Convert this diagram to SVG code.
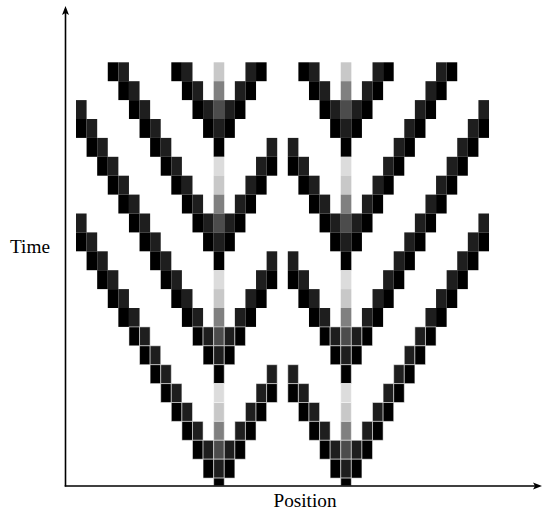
<svg xmlns="http://www.w3.org/2000/svg" xmlns:xlink="http://www.w3.org/1999/xlink" width="543" height="513" viewBox="0 0 543 513">
<style>
.k{fill:#000}.d{fill:#1e1e1e}.g4{fill:#4c4c4c}.g8{fill:#808080}.l1{fill:#c8c8c8}.l2{fill:#dcdcdc}
#grid rect{stroke:#fff;stroke-width:0.5;vector-effect:non-scaling-stroke}
.axis{stroke:#000;stroke-width:1.6;fill:none}
.lbl{font-family:"Liberation Serif","Times New Roman",serif;font-size:18px;fill:#000}
</style>
<defs>
<marker id="arr" markerUnits="userSpaceOnUse" markerWidth="10" markerHeight="8" refX="3" refY="4" orient="auto">
<path d="M0,0.5 L9,4 L0,7.5 L2,4 Z" fill="#000"/>
</marker>
<clipPath id="clipGrid"><rect x="0" y="0" width="543" height="485.5"/></clipPath>
<g id="rowA"><rect class="k" x="3" y="0" width="1" height="1"/><rect class="d" x="4" y="0" width="1" height="1"/><rect class="k" x="9" y="0" width="1" height="1"/><rect class="d" x="10" y="0" width="1" height="1"/><rect class="l1" x="13" y="0" width="1" height="1"/><rect class="d" x="16" y="0" width="1" height="1"/><rect class="k" x="17" y="0" width="1" height="1"/><rect class="k" x="21" y="0" width="1" height="1"/><rect class="d" x="22" y="0" width="1" height="1"/><rect class="l1" x="25" y="0" width="1" height="1"/><rect class="d" x="28" y="0" width="1" height="1"/><rect class="k" x="29" y="0" width="1" height="1"/><rect class="d" x="34" y="0" width="1" height="1"/><rect class="k" x="35" y="0" width="1" height="1"/></g>
<g id="rowB"><rect class="k" x="4" y="0" width="1" height="1"/><rect class="d" x="5" y="0" width="1" height="1"/><rect class="k" x="10" y="0" width="1" height="1"/><rect class="d" x="11" y="0" width="1" height="1"/><rect class="g8" x="13" y="0" width="1" height="1"/><rect class="d" x="15" y="0" width="1" height="1"/><rect class="k" x="16" y="0" width="1" height="1"/><rect class="k" x="22" y="0" width="1" height="1"/><rect class="d" x="23" y="0" width="1" height="1"/><rect class="g8" x="25" y="0" width="1" height="1"/><rect class="d" x="27" y="0" width="1" height="1"/><rect class="k" x="28" y="0" width="1" height="1"/><rect class="d" x="33" y="0" width="1" height="1"/><rect class="k" x="34" y="0" width="1" height="1"/></g>
<g id="rowC"><rect class="d" x="0" y="0" width="1" height="1"/><rect class="k" x="5" y="0" width="1" height="1"/><rect class="d" x="6" y="0" width="1" height="1"/><rect class="k" x="11" y="0" width="1" height="1"/><rect class="d" x="12" y="0" width="1" height="1"/><rect class="g4" x="13" y="0" width="1" height="1"/><rect class="d" x="14" y="0" width="1" height="1"/><rect class="k" x="15" y="0" width="1" height="1"/><rect class="k" x="23" y="0" width="1" height="1"/><rect class="d" x="24" y="0" width="1" height="1"/><rect class="g4" x="25" y="0" width="1" height="1"/><rect class="d" x="26" y="0" width="1" height="1"/><rect class="k" x="27" y="0" width="1" height="1"/><rect class="d" x="32" y="0" width="1" height="1"/><rect class="k" x="33" y="0" width="1" height="1"/><rect class="d" x="38" y="0" width="1" height="1"/></g>
<g id="rowD"><rect class="k" x="0" y="0" width="1" height="1"/><rect class="d" x="1" y="0" width="1" height="1"/><rect class="k" x="6" y="0" width="1" height="1"/><rect class="d" x="7" y="0" width="1" height="1"/><rect class="k" x="12" y="0" width="1" height="1"/><rect class="d" x="13" y="0" width="1" height="1"/><rect class="k" x="14" y="0" width="1" height="1"/><rect class="k" x="24" y="0" width="1" height="1"/><rect class="d" x="25" y="0" width="1" height="1"/><rect class="k" x="26" y="0" width="1" height="1"/><rect class="d" x="31" y="0" width="1" height="1"/><rect class="k" x="32" y="0" width="1" height="1"/><rect class="d" x="37" y="0" width="1" height="1"/><rect class="k" x="38" y="0" width="1" height="1"/></g>
<g id="rowE"><rect class="k" x="1" y="0" width="1" height="1"/><rect class="d" x="2" y="0" width="1" height="1"/><rect class="k" x="7" y="0" width="1" height="1"/><rect class="d" x="8" y="0" width="1" height="1"/><rect class="k" x="13" y="0" width="1" height="1"/><rect class="d" x="18" y="0" width="1" height="1"/><rect class="d" x="20" y="0" width="1" height="1"/><rect class="k" x="25" y="0" width="1" height="1"/><rect class="d" x="30" y="0" width="1" height="1"/><rect class="k" x="31" y="0" width="1" height="1"/><rect class="d" x="36" y="0" width="1" height="1"/><rect class="k" x="37" y="0" width="1" height="1"/></g>
<g id="rowF"><rect class="k" x="2" y="0" width="1" height="1"/><rect class="d" x="3" y="0" width="1" height="1"/><rect class="k" x="8" y="0" width="1" height="1"/><rect class="d" x="9" y="0" width="1" height="1"/><rect class="l2" x="13" y="0" width="1" height="1"/><rect class="d" x="17" y="0" width="1" height="1"/><rect class="k" x="18" y="0" width="1" height="1"/><rect class="k" x="20" y="0" width="1" height="1"/><rect class="d" x="21" y="0" width="1" height="1"/><rect class="l2" x="25" y="0" width="1" height="1"/><rect class="d" x="29" y="0" width="1" height="1"/><rect class="k" x="30" y="0" width="1" height="1"/><rect class="d" x="35" y="0" width="1" height="1"/><rect class="k" x="36" y="0" width="1" height="1"/></g>
</defs>
<rect width="543" height="513" fill="#fff"/>
<g clip-path="url(#clipGrid)">
<g id="grid" transform="translate(76,62.3) scale(10.59,18.9)">
<use xlink:href="#rowA" y="0"/>
<use xlink:href="#rowB" y="1"/>
<use xlink:href="#rowC" y="2"/>
<use xlink:href="#rowD" y="3"/>
<use xlink:href="#rowE" y="4"/>
<use xlink:href="#rowF" y="5"/>
<use xlink:href="#rowA" y="6"/>
<use xlink:href="#rowB" y="7"/>
<use xlink:href="#rowC" y="8"/>
<use xlink:href="#rowD" y="9"/>
<use xlink:href="#rowE" y="10"/>
<use xlink:href="#rowF" y="11"/>
<use xlink:href="#rowA" y="12"/>
<use xlink:href="#rowB" y="13"/>
<g id="row14"><rect class="k" x="5" y="14" width="1" height="1"/><rect class="d" x="6" y="14" width="1" height="1"/><rect class="k" x="11" y="14" width="1" height="1"/><rect class="d" x="12" y="14" width="1" height="1"/><rect class="g4" x="13" y="14" width="1" height="1"/><rect class="d" x="14" y="14" width="1" height="1"/><rect class="k" x="15" y="14" width="1" height="1"/><rect class="k" x="23" y="14" width="1" height="1"/><rect class="d" x="24" y="14" width="1" height="1"/><rect class="g4" x="25" y="14" width="1" height="1"/><rect class="d" x="26" y="14" width="1" height="1"/><rect class="k" x="27" y="14" width="1" height="1"/><rect class="d" x="32" y="14" width="1" height="1"/><rect class="k" x="33" y="14" width="1" height="1"/></g>
<g id="row15"><rect class="k" x="6" y="15" width="1" height="1"/><rect class="d" x="7" y="15" width="1" height="1"/><rect class="k" x="12" y="15" width="1" height="1"/><rect class="d" x="13" y="15" width="1" height="1"/><rect class="k" x="14" y="15" width="1" height="1"/><rect class="k" x="24" y="15" width="1" height="1"/><rect class="d" x="25" y="15" width="1" height="1"/><rect class="k" x="26" y="15" width="1" height="1"/><rect class="d" x="31" y="15" width="1" height="1"/><rect class="k" x="32" y="15" width="1" height="1"/></g>
<g id="row16"><rect class="k" x="7" y="16" width="1" height="1"/><rect class="d" x="8" y="16" width="1" height="1"/><rect class="k" x="13" y="16" width="1" height="1"/><rect class="d" x="18" y="16" width="1" height="1"/><rect class="d" x="20" y="16" width="1" height="1"/><rect class="k" x="25" y="16" width="1" height="1"/><rect class="d" x="30" y="16" width="1" height="1"/><rect class="k" x="31" y="16" width="1" height="1"/></g>
<g id="row17"><rect class="k" x="8" y="17" width="1" height="1"/><rect class="d" x="9" y="17" width="1" height="1"/><rect class="l2" x="13" y="17" width="1" height="1"/><rect class="d" x="17" y="17" width="1" height="1"/><rect class="k" x="18" y="17" width="1" height="1"/><rect class="k" x="20" y="17" width="1" height="1"/><rect class="d" x="21" y="17" width="1" height="1"/><rect class="l2" x="25" y="17" width="1" height="1"/><rect class="d" x="29" y="17" width="1" height="1"/><rect class="k" x="30" y="17" width="1" height="1"/></g>
<g id="row18"><rect class="k" x="9" y="18" width="1" height="1"/><rect class="d" x="10" y="18" width="1" height="1"/><rect class="l1" x="13" y="18" width="1" height="1"/><rect class="d" x="16" y="18" width="1" height="1"/><rect class="k" x="17" y="18" width="1" height="1"/><rect class="k" x="21" y="18" width="1" height="1"/><rect class="d" x="22" y="18" width="1" height="1"/><rect class="l1" x="25" y="18" width="1" height="1"/><rect class="d" x="28" y="18" width="1" height="1"/><rect class="k" x="29" y="18" width="1" height="1"/></g>
<g id="row19"><rect class="k" x="10" y="19" width="1" height="1"/><rect class="d" x="11" y="19" width="1" height="1"/><rect class="g8" x="13" y="19" width="1" height="1"/><rect class="d" x="15" y="19" width="1" height="1"/><rect class="k" x="16" y="19" width="1" height="1"/><rect class="k" x="22" y="19" width="1" height="1"/><rect class="d" x="23" y="19" width="1" height="1"/><rect class="g8" x="25" y="19" width="1" height="1"/><rect class="d" x="27" y="19" width="1" height="1"/><rect class="k" x="28" y="19" width="1" height="1"/></g>
<g id="row20"><rect class="k" x="11" y="20" width="1" height="1"/><rect class="d" x="12" y="20" width="1" height="1"/><rect class="g4" x="13" y="20" width="1" height="1"/><rect class="d" x="14" y="20" width="1" height="1"/><rect class="k" x="15" y="20" width="1" height="1"/><rect class="k" x="23" y="20" width="1" height="1"/><rect class="d" x="24" y="20" width="1" height="1"/><rect class="g4" x="25" y="20" width="1" height="1"/><rect class="d" x="26" y="20" width="1" height="1"/><rect class="k" x="27" y="20" width="1" height="1"/></g>
<g id="row21"><rect class="k" x="12" y="21" width="1" height="1"/><rect class="d" x="13" y="21" width="1" height="1"/><rect class="k" x="14" y="21" width="1" height="1"/><rect class="k" x="24" y="21" width="1" height="1"/><rect class="d" x="25" y="21" width="1" height="1"/><rect class="k" x="26" y="21" width="1" height="1"/></g>
<g id="row22"><rect class="k" x="13" y="22" width="1" height="1"/><rect class="k" x="25" y="22" width="1" height="1"/></g>
</g>
</g>
<g id="connectors">
<line class="axis" x1="65.5" y1="486.5" x2="65.5" y2="12" marker-end="url(#arr)"/>
<line class="axis" x1="64.7" y1="486" x2="536" y2="486" marker-end="url(#arr)"/>
</g>
<g id="labels">
<text class="lbl" x="30" y="253" text-anchor="middle" textLength="40" lengthAdjust="spacingAndGlyphs">Time</text>
<text class="lbl" x="305" y="506.5" text-anchor="middle" textLength="63" lengthAdjust="spacingAndGlyphs">Position</text>
</g>
</svg>
